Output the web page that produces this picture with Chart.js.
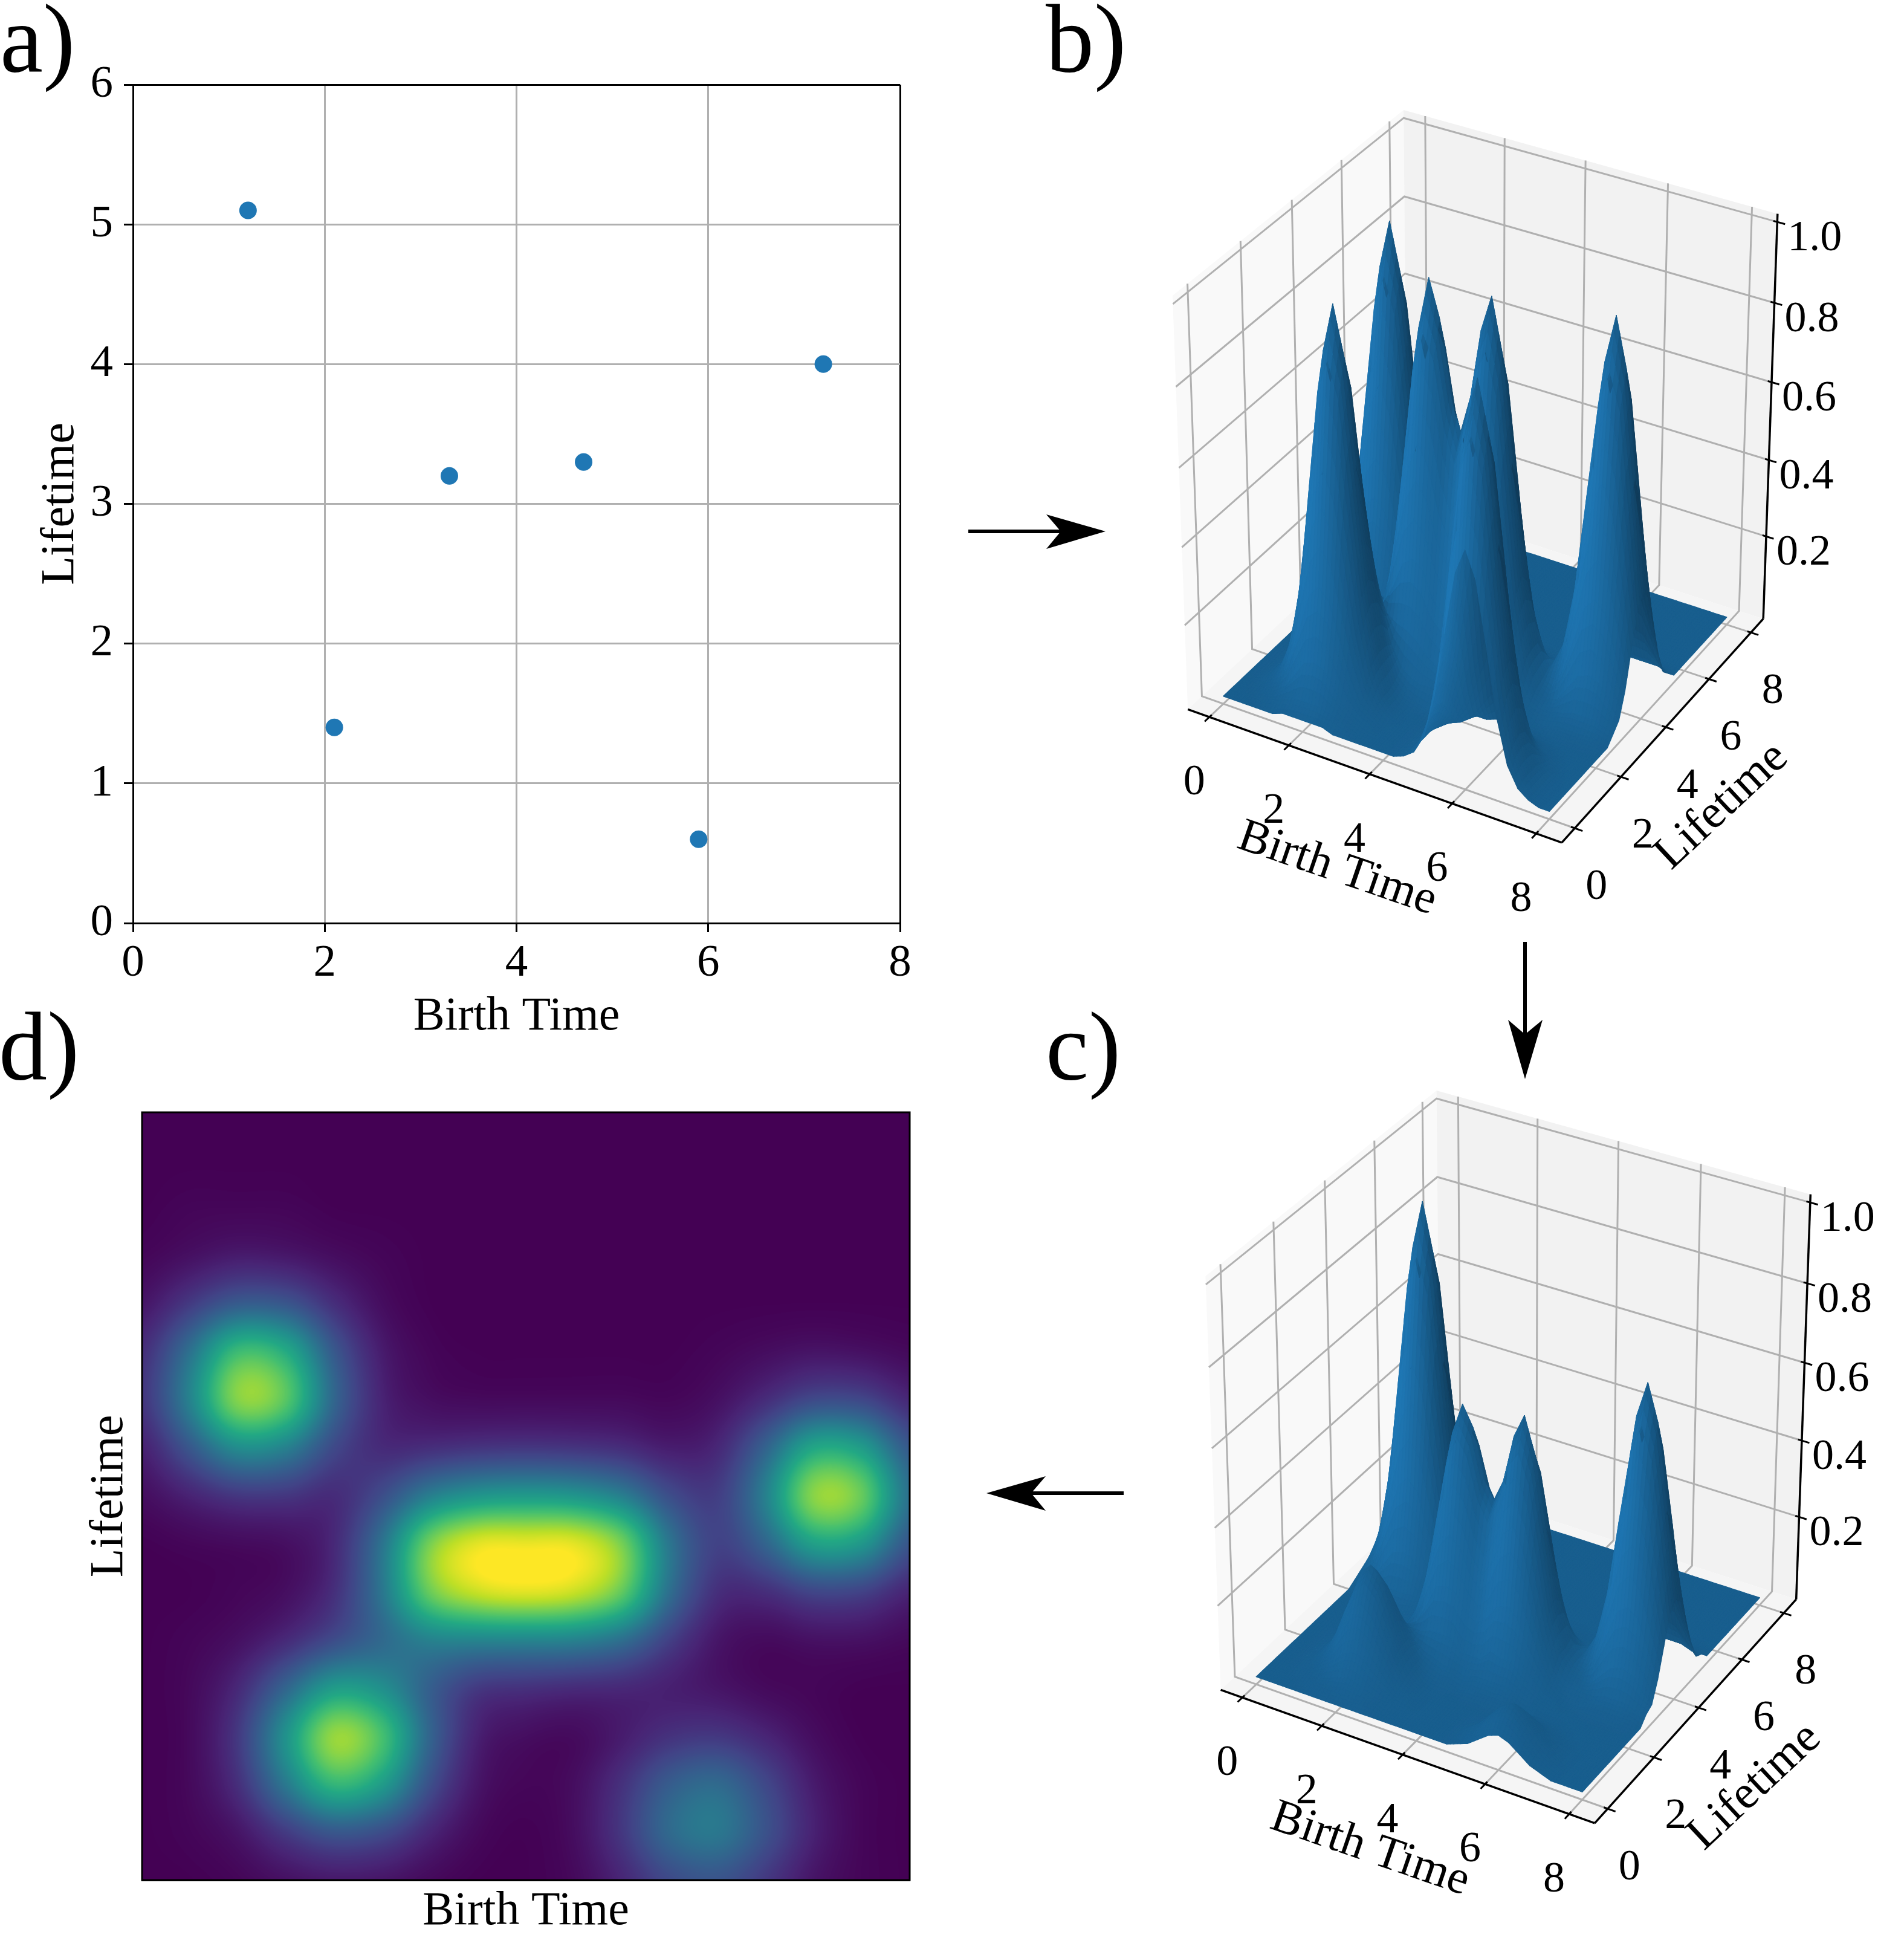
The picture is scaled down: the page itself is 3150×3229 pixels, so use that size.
<!DOCTYPE html>
<html><head><meta charset="utf-8">
<script src="https://cdn.jsdelivr.net/npm/chart.js@4/dist/chart.umd.min.js"></script>
<style>
html,body{margin:0;padding:0;background:#fff;}
#page{position:relative;width:3150px;height:3229px;overflow:hidden;background:#fff;}
canvas{position:absolute;display:block;}
.tag{position:absolute;font:160px/160px "Liberation Serif",serif;color:#000;white-space:pre;}
svg{position:absolute;left:0;top:0;}
</style></head><body>
<div id="page">
<canvas id="a" width="1560" height="1740" style="left:0;top:0"></canvas>
<canvas id="d" width="1560" height="1429" style="left:0;top:1800px"></canvas>
<canvas id="b" width="1250" height="1420" style="left:1900px;top:130px"></canvas>
<canvas id="c" width="1250" height="1479" style="left:1900px;top:1750px"></canvas>
<svg width="3150" height="3229">
<g fill="#000" stroke="none">
<rect x="1602" y="876" width="160" height="6"/><polygon points="1829,879 1731,851 1755,879 1731,908"/>
<rect x="2520" y="1558" width="6" height="160"/><polygon points="2523,1785 2495,1687 2523,1711 2552,1687"/>
<rect x="1699" y="2467" width="160" height="6"/><polygon points="1632,2470 1730,2442 1706,2470 1730,2499"/>
</g></svg>
<div class="tag" style="left:0;top:-16px">a)</div>
<div class="tag" style="left:1730px;top:-16px">b)</div>
<div class="tag" style="left:1730px;top:1651px">c)</div>
<div class="tag" style="left:-2px;top:1651px">d)</div>
</div>
<script>
const birthTime=[1.2,2.1,3.3,4.7,5.9,7.2];
const lifetime=[5.1,1.4,3.2,3.3,0.6,4.0];
const gridStep=0.25;
const imageStep=0.5;
const xTickValues=[0,2,4,6,8];
const yTickValues=[0,2,4,6,8];
const zTickValues=[0.2,0.4,0.6,0.8,1.0];
const zTickLabels=["0.2","0.4","0.6","0.8","1.0"];
const xAxisTitle="Birth Time";
const yAxisTitle="Lifetime";
// rows are Lifetime 0..8, columns Birth Time 0..8, heights in percent
const surfaceB=[
[0,0,0,0,0,0,1,1,1,1,1,0,0,0,0,0,0,0,1,3,8,19,36,52,59,52,36,19,8,3,1,0,0],
[0,0,0,0,1,2,3,4,4,4,3,2,1,0,0,0,0,0,1,4,12,28,52,76,85,76,52,28,12,4,1,0,0],
[0,0,0,1,2,4,8,12,13,12,8,4,2,1,0,0,0,0,1,4,13,31,59,85,97,85,59,31,13,4,1,0,0],
[0,0,0,2,4,10,19,28,31,28,19,10,4,2,0,0,0,0,1,4,12,28,52,76,85,76,52,28,12,4,1,0,0],
[0,0,1,3,8,19,36,52,59,52,36,19,8,3,1,0,0,0,1,3,8,19,36,52,59,52,36,19,8,3,1,0,0],
[0,0,1,4,12,28,52,76,85,76,52,28,12,4,1,0,0,0,0,2,4,10,19,28,31,28,19,10,4,2,0,0,0],
[0,0,1,4,13,31,59,85,97,85,59,31,13,4,1,0,0,0,0,1,2,4,8,12,13,12,8,4,2,1,0,0,0],
[0,0,1,4,12,28,52,76,85,76,52,29,13,5,2,1,0,1,1,1,2,3,3,4,4,4,3,2,1,0,0,0,0],
[0,0,1,3,8,19,36,52,59,53,38,22,12,7,5,4,4,4,4,4,4,3,3,2,1,1,1,0,0,0,0,0,0],
[0,0,0,2,4,10,19,28,32,30,23,18,16,15,13,10,8,10,13,13,12,8,4,2,1,0,0,0,0,0,0,0,0],
[0,0,0,1,2,4,8,12,15,16,18,23,30,32,30,23,20,23,30,31,28,19,10,4,2,0,0,1,1,1,1,1,0],
[0,0,0,0,1,2,3,5,7,12,22,38,53,60,55,44,38,44,55,60,52,36,19,8,3,2,2,3,4,4,4,3,2],
[0,0,0,0,0,0,1,2,5,13,29,52,76,86,80,64,56,64,80,86,76,52,28,12,5,3,4,8,12,13,12,8,4],
[0,0,0,0,0,0,0,1,4,13,31,59,85,98,89,72,62,72,89,98,85,59,31,13,6,5,10,19,28,31,28,19,10],
[0,0,0,1,1,1,1,2,4,12,28,52,76,86,80,64,56,64,80,86,76,52,28,13,7,9,19,36,52,59,52,36,19],
[0,1,2,3,4,4,4,4,5,9,19,36,52,60,55,44,38,44,55,60,52,36,19,9,7,13,28,52,76,85,76,52,28],
[1,2,4,8,12,13,12,8,6,6,11,19,28,31,30,23,20,23,30,31,28,19,10,5,6,13,31,59,85,97,85,59,31],
[2,4,10,19,28,31,28,19,11,6,6,8,12,13,13,10,8,10,13,13,12,8,4,3,5,12,28,52,76,85,76,52,28],
[3,8,19,36,52,59,52,36,19,9,5,4,4,4,4,4,4,4,4,4,4,3,2,2,3,8,19,36,52,59,52,36,19],
[4,12,28,52,76,85,76,52,28,12,4,2,1,1,1,1,0,1,1,1,1,1,0,0,2,4,10,19,28,31,28,19,10],
[4,13,31,59,85,97,85,59,31,13,4,1,0,0,0,0,0,0,0,0,0,0,0,0,1,2,4,8,12,13,12,8,4],
[4,12,28,52,76,85,76,52,28,12,4,1,0,0,0,0,0,0,0,0,0,0,0,0,0,1,2,3,4,4,4,3,2],
[3,8,19,36,52,59,52,36,19,8,3,1,0,0,0,0,0,0,0,0,0,0,0,0,0,0,0,1,1,1,1,1,0],
[2,4,10,19,28,31,28,19,10,4,2,0,0,0,0,0,0,0,0,0,0,0,0,0,0,0,0,0,0,0,0,0,0],
[1,2,4,8,12,13,12,8,4,2,1,0,0,0,0,0,0,0,0,0,0,0,0,0,0,0,0,0,0,0,0,0,0],
[0,1,2,3,4,4,4,3,2,1,0,0,0,0,0,0,0,0,0,0,0,0,0,0,0,0,0,0,0,0,0,0,0],
[0,0,0,1,1,1,1,1,0,0,0,0,0,0,0,0,0,0,0,0,0,0,0,0,0,0,0,0,0,0,0,0,0],
[0,0,0,0,0,0,0,0,0,0,0,0,0,0,0,0,0,0,0,0,0,0,0,0,0,0,0,0,0,0,0,0,0],
[0,0,0,0,0,0,0,0,0,0,0,0,0,0,0,0,0,0,0,0,0,0,0,0,0,0,0,0,0,0,0,0,0],
[0,0,0,0,0,0,0,0,0,0,0,0,0,0,0,0,0,0,0,0,0,0,0,0,0,0,0,0,0,0,0,0,0],
[0,0,0,0,0,0,0,0,0,0,0,0,0,0,0,0,0,0,0,0,0,0,0,0,0,0,0,0,0,0,0,0,0],
[0,0,0,0,0,0,0,0,0,0,0,0,0,0,0,0,0,0,0,0,0,0,0,0,0,0,0,0,0,0,0,0,0],
[0,0,0,0,0,0,0,0,0,0,0,0,0,0,0,0,0,0,0,0,0,0,0,0,0,0,0,0,0,0,0,0,0]];
const surfaceC=[
[0,0,0,0,0,0,0,0,0,0,0,0,0,0,0,0,0,0,0,0,1,2,4,6,7,6,4,2,1,0,0,0,0],
[0,0,0,0,0,1,1,1,1,1,1,1,0,0,0,0,0,0,0,0,1,3,6,9,10,9,6,3,1,0,0,0,0],
[0,0,0,0,1,1,2,3,4,3,2,1,1,0,0,0,0,0,0,0,2,4,7,10,12,10,7,4,2,0,0,0,0],
[0,0,0,1,1,3,5,8,9,8,5,3,1,1,0,0,0,0,0,0,1,3,6,9,10,9,6,3,1,0,0,0,0],
[0,0,0,1,2,5,10,15,17,15,10,5,2,1,0,0,0,0,0,0,1,2,4,6,7,6,4,2,1,0,0,0,0],
[0,0,0,1,3,8,15,21,24,21,15,8,3,1,0,0,0,0,0,0,0,1,2,3,4,3,2,1,0,0,0,0,0],
[0,0,0,1,4,9,17,24,27,24,17,9,4,1,0,0,0,0,0,0,0,0,1,1,2,1,1,0,0,0,0,0,0],
[0,0,0,1,3,8,15,21,24,21,15,9,4,2,1,1,0,1,1,1,1,1,0,0,0,0,0,0,0,0,0,0,0],
[0,0,0,1,2,5,10,15,17,16,11,7,5,4,3,3,2,3,3,3,3,2,1,1,0,0,0,0,0,0,0,0,0],
[0,0,0,1,1,3,5,8,10,9,8,8,9,9,9,6,6,6,9,8,8,5,3,1,1,0,0,0,0,0,0,0,0],
[0,0,0,0,1,1,2,3,5,6,8,13,19,20,19,15,13,15,19,20,18,12,7,3,1,0,0,1,1,1,1,1,0],
[0,0,0,0,0,1,1,2,3,6,13,24,33,38,35,28,24,28,36,39,34,23,12,5,2,2,2,2,3,3,3,2,2],
[0,0,0,0,0,0,0,1,3,8,18,33,48,55,51,41,36,42,52,56,49,34,18,8,4,3,3,6,9,10,9,6,3],
[0,0,0,0,0,0,0,1,3,8,20,37,54,62,57,45,40,46,58,64,55,38,20,8,5,4,8,15,22,24,22,15,8],
[0,0,0,1,1,1,1,2,3,8,18,33,48,55,51,41,36,42,52,56,49,34,18,9,5,7,15,28,41,46,41,28,15],
[0,1,2,3,4,4,4,4,4,6,12,23,33,38,35,28,24,28,36,39,34,23,12,6,5,10,22,41,59,67,59,41,22],
[1,2,4,8,12,13,12,8,5,5,7,12,18,20,19,15,13,15,19,20,18,12,7,4,4,10,24,46,67,76,67,46,24],
[2,4,10,19,28,31,28,19,11,5,5,5,8,8,9,6,6,6,9,8,8,5,3,2,4,9,22,41,59,67,59,41,22],
[3,8,19,36,52,59,52,36,19,9,4,3,3,3,3,3,2,3,3,3,3,2,1,2,2,6,15,28,41,46,41,28,15],
[4,12,28,52,76,85,76,52,28,12,4,2,1,1,1,1,0,1,1,1,1,1,0,0,2,3,8,15,22,24,22,15,8],
[4,13,31,59,85,97,85,59,31,13,4,1,0,0,0,0,0,0,0,0,0,0,0,0,1,2,3,6,9,10,9,6,3],
[4,12,28,52,76,85,76,52,28,12,4,1,0,0,0,0,0,0,0,0,0,0,0,0,0,1,2,2,3,3,3,2,2],
[3,8,19,36,52,59,52,36,19,8,3,1,0,0,0,0,0,0,0,0,0,0,0,0,0,0,0,1,1,1,1,1,0],
[2,4,10,19,28,31,28,19,10,4,2,0,0,0,0,0,0,0,0,0,0,0,0,0,0,0,0,0,0,0,0,0,0],
[1,2,4,8,12,13,12,8,4,2,1,0,0,0,0,0,0,0,0,0,0,0,0,0,0,0,0,0,0,0,0,0,0],
[0,1,2,3,4,4,4,3,2,1,0,0,0,0,0,0,0,0,0,0,0,0,0,0,0,0,0,0,0,0,0,0,0],
[0,0,0,1,1,1,1,1,0,0,0,0,0,0,0,0,0,0,0,0,0,0,0,0,0,0,0,0,0,0,0,0,0],
[0,0,0,0,0,0,0,0,0,0,0,0,0,0,0,0,0,0,0,0,0,0,0,0,0,0,0,0,0,0,0,0,0],
[0,0,0,0,0,0,0,0,0,0,0,0,0,0,0,0,0,0,0,0,0,0,0,0,0,0,0,0,0,0,0,0,0],
[0,0,0,0,0,0,0,0,0,0,0,0,0,0,0,0,0,0,0,0,0,0,0,0,0,0,0,0,0,0,0,0,0],
[0,0,0,0,0,0,0,0,0,0,0,0,0,0,0,0,0,0,0,0,0,0,0,0,0,0,0,0,0,0,0,0,0],
[0,0,0,0,0,0,0,0,0,0,0,0,0,0,0,0,0,0,0,0,0,0,0,0,0,0,0,0,0,0,0,0,0],
[0,0,0,0,0,0,0,0,0,0,0,0,0,0,0,0,0,0,0,0,0,0,0,0,0,0,0,0,0,0,0,0,0]];
const imageD=[
[0,0,1,4,6,5,2,0,0,2,10,22,26,16,5,1,0],
[0,1,5,17,27,23,10,2,0,3,16,36,42,26,9,1,0],
[0,2,13,41,69,57,24,5,1,3,14,30,36,22,7,1,0],
[0,2,16,52,90,74,32,8,3,2,7,14,16,10,3,0,0],
[0,2,11,33,56,50,29,15,13,11,10,8,5,2,1,0,0],
[0,1,4,11,22,33,43,44,44,43,36,18,5,2,4,4,2],
[0,0,1,3,12,39,80,95,99,95,79,36,12,12,20,19,9],
[0,1,2,3,10,38,83,100,100,100,83,39,18,32,58,54,25],
[3,9,15,15,11,23,43,52,54,52,43,23,17,44,88,81,36],
[8,27,49,44,21,11,12,14,15,14,12,7,10,32,62,57,27],
[14,45,87,78,33,9,3,2,2,2,2,1,4,12,22,21,10],
[12,38,72,64,28,7,1,0,0,0,0,0,1,3,5,4,2],
[5,17,29,27,13,3,0,0,0,0,0,0,0,0,0,0,0],
[1,4,7,6,3,1,0,0,0,0,0,0,0,0,0,0,0],
[0,1,1,1,0,0,0,0,0,0,0,0,0,0,0,0,0],
[0,0,0,0,0,0,0,0,0,0,0,0,0,0,0,0,0],
[0,0,0,0,0,0,0,0,0,0,0,0,0,0,0,0,0]];
const viridisStops=["#440154","#482475","#414487","#355f8d","#2a788e","#21918c","#22a884","#44bf70","#7ad151","#bddf26","#fde725"];

const SERIF='"Liberation Serif",serif';
const tickFont={family:'Liberation Serif',size:75};
const titleFont={family:'Liberation Serif',size:78,lineHeight:1.2};
Chart.defaults.font.family='Liberation Serif';
const base={responsive:false,devicePixelRatio:1,animation:false,events:[],maintainAspectRatio:false,
  plugins:{legend:{display:false},tooltip:{enabled:false}}};

// ---- panel a
new Chart(document.getElementById('a'),{type:'scatter',
 data:{datasets:[{data:birthTime.map((b,i)=>({x:b,y:lifetime[i]})),backgroundColor:'#1f77b4',borderWidth:0,pointRadius:14.5}]},
 options:{...base,layout:{padding:{top:140,right:71}},
  scales:{
   x:{type:'linear',min:0,max:8,afterFit:s=>{s.height=213;},
      ticks:{stepSize:2,color:'#000',font:tickFont,padding:7,maxRotation:0},
      grid:{color:c=>(c.tick.value===8||c.tick.value===0)?'#000':'#b0b0b0',lineWidth:3,tickLength:15,tickColor:'#000',tickWidth:3},
      border:{color:'#000',width:3},
      title:{display:true,text:xAxisTitle,color:'#000',font:titleFont,padding:{top:0,bottom:11}}},
   y:{type:'linear',min:0,max:6,afterFit:s=>{s.width=220;},
      ticks:{stepSize:1,color:'#000',font:tickFont,padding:18},
      grid:{color:c=>(c.tick.value===6||c.tick.value===0)?'#000':'#b0b0b0',lineWidth:3,tickLength:15,tickColor:'#000',tickWidth:3},
      border:{color:'#000',width:3},
      title:{display:true,text:yAxisTitle,color:'#000',font:titleFont,padding:{top:54,bottom:0}}}
  }}});

// ---- panel d
function hex(h){return [1,3,5].map(k=>parseInt(h.slice(k,k+2),16));}
function viridis(t){const p=Math.min(.9999,Math.max(0,t))*(viridisStops.length-1),i=Math.floor(p),f=p-i;
 const A=hex(viridisStops[i]),B=hex(viridisStops[i+1]);return A.map((v,k)=>v+(B[k]-v)*f);}
const viridisLut=Array.from({length:256},(_,k)=>viridis(k/255));
const heatPlugin={id:'heat',beforeDatasetsDraw(chart){
 const ctx=chart.ctx,rows=imageD,n=rows.length,small=document.createElement('canvas');
 small.width=n;small.height=n;const sc=small.getContext('2d'),im=sc.createImageData(n,n);
 rows.forEach((r,j)=>r.forEach((v,i)=>{const g=Math.round(v*2.55),o=((n-1-j)*n+i)*4;
  im.data[o]=g;im.data[o+1]=g;im.data[o+2]=g;im.data[o+3]=255;}));
 sc.putImageData(im,0,0);
 const {x,y}=chart.scales,a=chart.chartArea,h=imageStep/2;
 const x0=x.getPixelForValue(-h),x1=x.getPixelForValue(x.max+h),y0=y.getPixelForValue(y.max+h),y1=y.getPixelForValue(-h);
 const big=document.createElement('canvas');big.width=Math.round(x1-x0);big.height=Math.round(y1-y0);
 const bc=big.getContext('2d',{willReadFrequently:true});bc.imageSmoothingEnabled=true;bc.imageSmoothingQuality='high';
 bc.drawImage(small,0,0,big.width,big.height);
 const px=bc.getImageData(0,0,big.width,big.height),D=px.data;
 for(let o=0;o<D.length;o+=4){const c=viridisLut[D[o]];D[o]=c[0];D[o+1]=c[1];D[o+2]=c[2];D[o+3]=255;}
 bc.putImageData(px,0,0);
 ctx.save();ctx.beginPath();ctx.rect(a.left,a.top,a.width,a.height);ctx.clip();
 ctx.drawImage(big,x0,y0,x1-x0,y1-y0);ctx.restore();
 ctx.save();ctx.strokeStyle='#000';ctx.lineWidth=3;ctx.strokeRect(a.left,a.top,a.width,a.height);ctx.restore();
}};
new Chart(document.getElementById('d'),{type:'scatter',
 data:{datasets:[{data:imageD.flatMap((r,j)=>r.map((v,i)=>({x:i*imageStep,y:j*imageStep,v}))),pointRadius:0}]},
 plugins:[heatPlugin],
 options:{...base,layout:{padding:{top:40,right:55}},
  scales:{
   x:{type:'linear',min:0,max:8,afterFit:s=>{s.height=119;},ticks:{display:false},grid:{display:false},border:{color:'#000',width:3},
      title:{display:true,text:xAxisTitle,color:'#000',font:titleFont,padding:{top:0,bottom:20}}},
   y:{type:'linear',min:0,max:8,afterFit:s=>{s.width=235;},ticks:{display:false},grid:{display:false},border:{color:'#000',width:3},
      title:{display:true,text:yAxisTitle,color:'#000',font:titleFont,padding:{top:135,bottom:0}}}
  }}});

// ---- panels b, c : perspective view of the box
const box={x0:-0.55,x1:8.6,y0:-0.55,y1:8.6,z0:-0.02,z1:1.02};
function project(x,y,z){
 const qx=(x-box.x0)/(box.x1-box.x0)-.5,qy=(y-box.y0)/(box.y1-box.y0)-.5,qz=(z-box.z0)/(box.z1-box.z0)-.5;
 const vx=.8660254*qx+.5*qy,vy=-.25*qx+.4330127*qy+.8660254*qz,d=.4330127*qx-.75*qy+.5*qz,k=10-d;
 return {x:vx/k,y:vy/k,d};
}
const xt=.02*(box.x1-box.x0),xi=.01*(box.x1-box.x0);
function seg(pts,color,width){return {data:pts.map(p=>project(p[0],p[1],p[2])),showLine:true,borderColor:color,borderWidth:width,pointRadius:0,clip:false};}
function surface3D(id,rows,view){
 const cv=document.getElementById(id),L=parseFloat(cv.style.left),T=parseFloat(cv.style.top),W=cv.width,H=cv.height;
 const n=rows.length;
 const nodes=rows.flatMap((r,j)=>r.map((v,i)=>project(i*gridStep,j*gridStep,v/100)));
 // light on each node, from the slope of the sheet there
 const lx=-.6667,ly=-.6667,lz=.3333;
 const at=(j,i)=>rows[Math.max(0,Math.min(n-1,j))][Math.max(0,Math.min(n-1,i))]/100;
 const shade=[];
 for(let j=0;j<n;j++)for(let i=0;i<n;i++){
  const dx=(at(j,i+1)-at(j,i-1))/(((i>0)+(i<n-1))*gridStep),dy=(at(j+1,i)-at(j-1,i))/(((j>0)+(j<n-1))*gridStep),m=Math.hypot(dx,dy,1);
  shade.push((-dx*lx-dy*ly+lz)/m);
 }
 const sMin=Math.min(...shade),sMax=Math.max(...shade),tone=shade.map(s=>.5+.5*(s-sMin)/(sMax-sMin));
 const quads=[];
 for(let j=0;j<n-1;j++)for(let i=0;i<n-1;i++){
  const id0=j*n+i,ids=[id0,id0+1,id0+n+1,id0+n];
  quads.push({ids,d:ids.reduce((t,q)=>t+nodes[q].d,0)/4});
 }
 quads.sort((p,q)=>p.d-q.d);
 const panes=[
  {c:'#f9f9f9',p:[[box.x0,box.y0,box.z0],[box.x0,box.y1,box.z0],[box.x0,box.y1,box.z1],[box.x0,box.y0,box.z1]]},
  {c:'#f2f2f2',p:[[box.x0,box.y1,box.z0],[box.x1,box.y1,box.z0],[box.x1,box.y1,box.z1],[box.x0,box.y1,box.z1]]},
  {c:'#f5f5f5',p:[[box.x0,box.y0,box.z0],[box.x1,box.y0,box.z0],[box.x1,box.y1,box.z0],[box.x0,box.y1,box.z0]]}];
 const gridCol='#b0b0b0',gw=3,datasets=[{data:nodes,pointRadius:0,showLine:false,clip:false}];
 const lines=[];
 xTickValues.forEach(t=>lines.push(seg([[t,box.y0,box.z0],[t,box.y1,box.z0],[t,box.y1,box.z1]],gridCol,gw)));
 yTickValues.forEach(t=>lines.push(seg([[box.x1,t,box.z0],[box.x0,t,box.z0],[box.x0,t,box.z1]],gridCol,gw)));
 zTickValues.forEach(t=>lines.push(seg([[box.x0,box.y0,t],[box.x0,box.y1,t],[box.x1,box.y1,t]],gridCol,gw)));
 const black=[seg([[box.x0,box.y0,box.z0],[box.x1,box.y0,box.z0]],'#000',3.5),
  seg([[box.x1,box.y0,box.z0],[box.x1,box.y1,box.z0]],'#000',3.5),
  seg([[box.x1,box.y1,box.z0],[box.x1,box.y1,box.z1]],'#000',3.5)];
 xTickValues.forEach(t=>black.push(seg([[t,box.y0-xt,box.z0],[t,box.y0+xi,box.z0]],'#000',3)));
 yTickValues.forEach(t=>black.push(seg([[box.x1-xi,t,box.z0],[box.x1+xt,t,box.z0]],'#000',3)));
 zTickValues.forEach(t=>black.push(seg([[box.x1-xi,box.y1,t],[box.x1+xt,box.y1,t]],'#000',3)));
 datasets.push(...black,...lines);
 const px=(ch,p)=>[ch.scales.x.getPixelForValue(p.x),ch.scales.y.getPixelForValue(p.y)];
 const SUB=3;
 const plugin={id:'surf'+id,
  beforeDatasetsDraw(ch){const c=ch.ctx;c.save();panes.forEach(o=>{c.fillStyle=o.c;c.beginPath();
    o.p.forEach((q,k)=>{const [u,w]=px(ch,project(q[0],q[1],q[2]));k?c.lineTo(u,w):c.moveTo(u,w);});c.closePath();c.fill();});c.restore();},
  afterDatasetsDraw(ch){const c=ch.ctx,el=ch.getDatasetMeta(0).data;c.save();c.lineWidth=1.2;c.lineJoin='round';
    quads.forEach(q=>{const [a,b,e,f]=q.ids.map(k=>el[k]),[ta,tb,te,tf]=q.ids.map(k=>tone[k]);
      const P=(s,t)=>[a.x*(1-s)*(1-t)+b.x*s*(1-t)+e.x*s*t+f.x*(1-s)*t,a.y*(1-s)*(1-t)+b.y*s*(1-t)+e.y*s*t+f.y*(1-s)*t];
      for(let tt=SUB-1;tt>=0;tt--)for(let ss=0;ss<SUB;ss++){
        const s0=ss/SUB,s1=(ss+1)/SUB,t0=tt/SUB,t1=(tt+1)/SUB,sm=(s0+s1)/2,tm=(t0+t1)/2;
        const g=ta*(1-sm)*(1-tm)+tb*sm*(1-tm)+te*sm*tm+tf*(1-sm)*tm,col=`rgb(${31*g},${119*g},${180*g})`;
        c.fillStyle=col;c.strokeStyle=col;c.beginPath();
        [[s0,t0],[s1,t0],[s1,t1],[s0,t1]].forEach((m,o)=>{const v=P(m[0],m[1]);o?c.lineTo(v[0],v[1]):c.moveTo(v[0],v[1]);});
        c.closePath();c.fill();c.stroke();}
    });
    c.restore();},
  afterDraw(ch){const c=ch.ctx;c.save();c.fillStyle='#000';c.textAlign='center';c.textBaseline='middle';
    c.font='72px '+SERIF;
    xTickValues.forEach(t=>{const [u,w]=px(ch,project(t,box.y0,box.z0));c.fillText(String(t),u-25,w+109);});
    yTickValues.forEach(t=>{const [u,w]=px(ch,project(box.x1,t,box.z0));c.fillText(String(t),u+36,w+98);});
    zTickValues.forEach((t,k)=>{const [u,w]=px(ch,project(box.x1,box.y1,t));c.fillText(zTickLabels[k],u+62,w+28);});
    c.font='78px '+SERIF;
    let [u,w]=px(ch,project(4,box.y0,box.z0));c.save();c.translate(u-54,w+157);c.rotate(19*Math.PI/180);c.fillText(xAxisTitle,0,0);c.restore();
    [u,w]=px(ch,project(box.x1,4,box.z0));c.save();c.translate(u+93,w+131);c.rotate(-43*Math.PI/180);c.fillText(yAxisTitle,0,0);c.restore();
    c.restore();}};
 new Chart(cv,{type:'scatter',data:{datasets},plugins:[plugin],options:{...base,
  scales:{x:{type:'linear',display:false,min:(L-view.ox)/view.sx,max:(L+W-view.ox)/view.sx},
          y:{type:'linear',display:false,max:(view.oy-T)/view.sy,min:(view.oy-T-H)/view.sy}}}});
}
surface3D('b',surfaceB,{ox:2448.5,sx:7142,oy:767.3,sy:7814});
surface3D('c',surfaceC,{ox:2503,sx:7142,oy:2389.3,sy:7814});
</script>
</body></html>
